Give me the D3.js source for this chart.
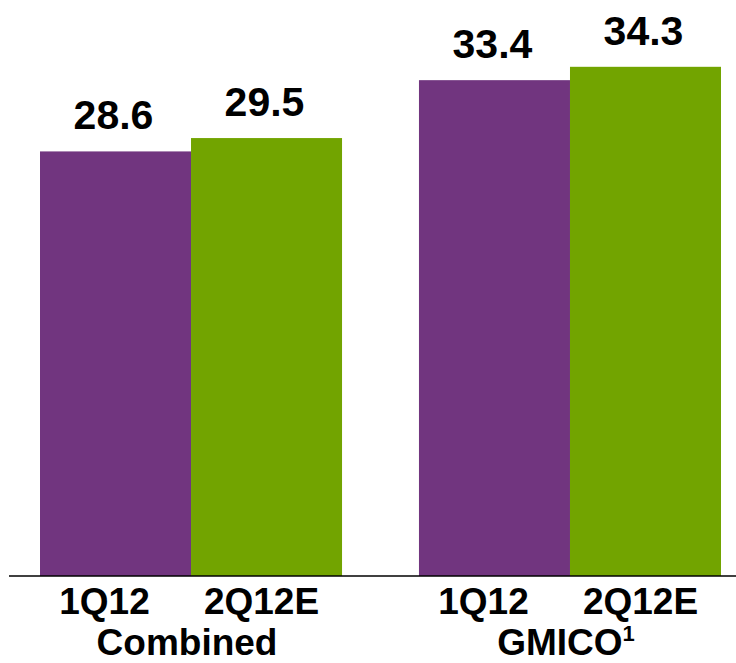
<!DOCTYPE html>
<html>
<head>
<meta charset="utf-8">
<script src="https://cdn.jsdelivr.net/npm/d3@7"></script>
<style>
  html, body { margin: 0; padding: 0; background: #fff; }
  svg { display: block; }
  text { font-family: "Liberation Sans", Arial, sans-serif; font-weight: bold; fill: #000; }
</style>
</head>
<body>
<script>
const groups = ["Combined", "GMICO"];
const groupSup = ["", "1"];
const periods = ["1Q12", "2Q12E"];
const values = {
  "Combined": [28.6, 29.5],
  "GMICO": [33.4, 34.3]
};
const colors = ["#71357F", "#72A400"];

const W = 736, H = 663;
const svg = d3.select("body").append("svg").attr("width", W).attr("height", H);

const x0 = d3.scaleBand().domain(groups).range([40, 721]).paddingInner(0.203).paddingOuter(0);
const x1 = d3.scaleBand().domain(periods).range([0, x0.bandwidth()]).padding(0);
const y = d3.scaleLinear().domain([0, 38.8]).range([576, 0]);
const color = d3.scaleOrdinal().domain(periods).range(colors);

const data = groups.flatMap(g => periods.map((p, i) => ({ group: g, period: p, value: values[g][i] })));

svg.selectAll("rect.bar").data(data).join("rect")
  .attr("class", "bar")
  .attr("x", d => x0(d.group) + x1(d.period))
  .attr("width", x1.bandwidth())
  .attr("y", d => y(d.value))
  .attr("height", d => y(0) - y(d.value))
  .attr("fill", d => color(d.period));

// value labels
svg.selectAll("text.val").data(data).join("text")
  .attr("class", "val")
  .attr("x", d => x0(d.group) + x1(d.period) + x1.bandwidth() / 2 - 2)
  .attr("y", d => y(d.value) - 22)
  .attr("text-anchor", "middle")
  .style("font-size", "41px")
  .text(d => d.value.toFixed(1));

// baseline
svg.append("line")
  .attr("x1", 9).attr("x2", W)
  .attr("y1", y(0)).attr("y2", y(0))
  .attr("stroke", "#000").attr("stroke-width", 1.3);

// period labels
svg.selectAll("text.per").data(data).join("text")
  .attr("class", "per")
  .attr("x", d => x0(d.group) + x1(d.period) + x1.bandwidth() / 2 + (d.period === periods[0] ? -11 : -5))
  .attr("y", 614)
  .attr("text-anchor", "middle")
  .style("font-size", "37px")
  .text(d => d.period);

// group labels
const gl = svg.selectAll("text.grp").data(groups).join("text")
  .attr("class", "grp")
  .attr("x", g => x0(g) + x0.bandwidth() / 2 - 4)
  .attr("y", 655)
  .attr("text-anchor", "middle")
  .style("font-size", "37px");
gl.append("tspan").text(g => g);
gl.filter((g, i) => groupSup[i] !== "").append("tspan")
  .attr("dy", -14)
  .style("font-size", "22px")
  .text(g => groupSup[groups.indexOf(g)]);
</script>
</body>
</html>
